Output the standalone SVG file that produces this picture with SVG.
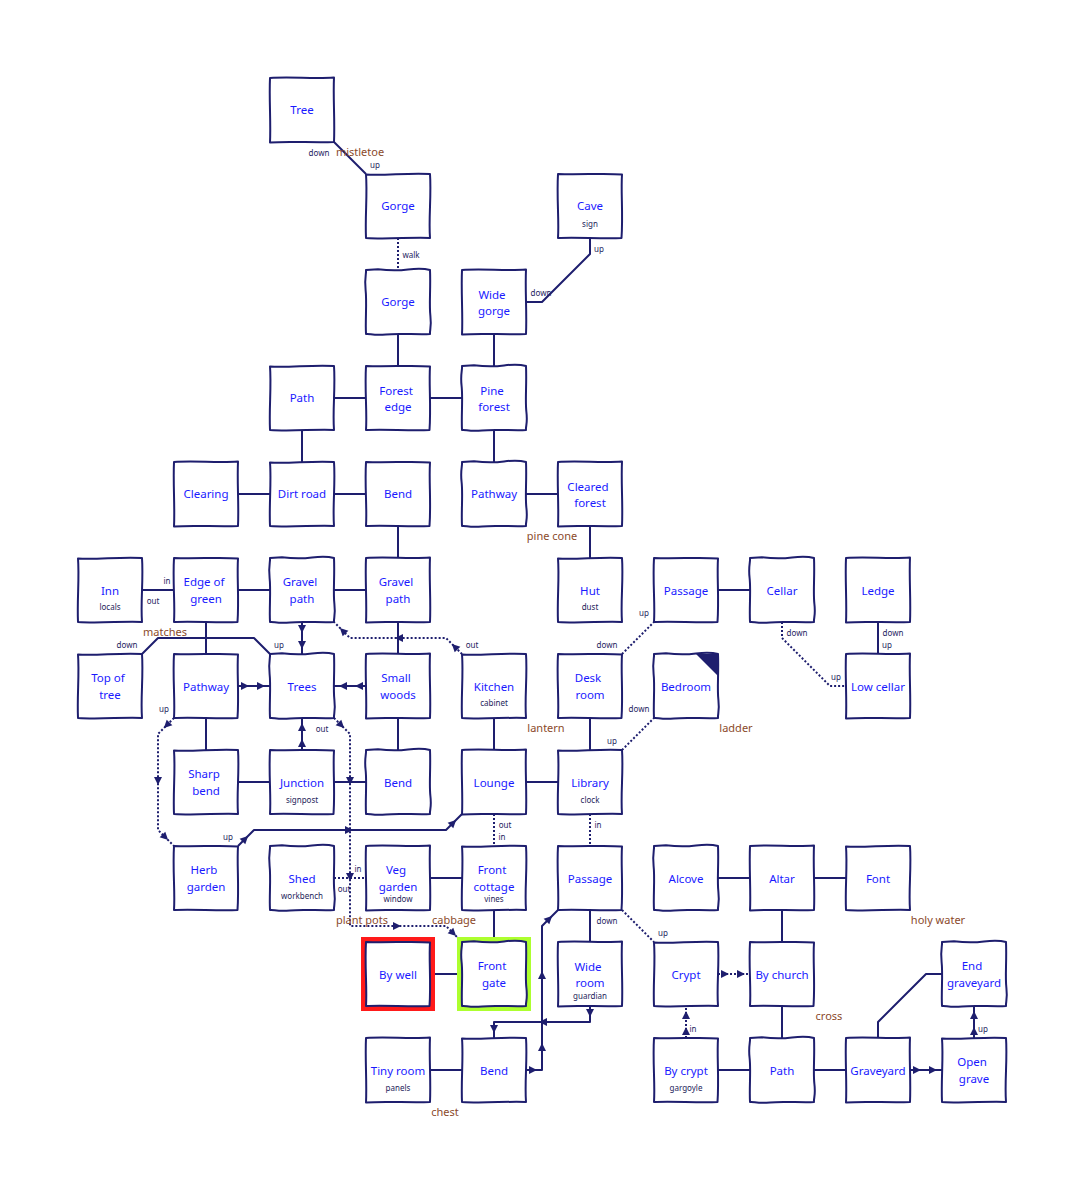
<svg xmlns="http://www.w3.org/2000/svg" xmlns:xlink="http://www.w3.org/1999/xlink" width="1084" height="1180" viewBox="0 0 1084 1180">
<style>
.bx{fill:#fff;stroke:#1e1e6e;stroke-width:2;stroke-linejoin:round}
.t{font-family:"Noto Sans","Open Sans",sans-serif;font-size:11.5px;fill:#1a1aff;text-anchor:middle}
.s{font-family:"Noto Sans","Open Sans",sans-serif;font-size:8px;fill:#24245a;text-anchor:middle}
.l{font-family:"Noto Sans","Open Sans",sans-serif;font-size:8px;fill:#24245e;text-anchor:middle}
.i{font-family:"Noto Sans","Open Sans",sans-serif;font-size:11px;fill:#8b4a2b;text-anchor:middle}
.c{fill:none;stroke:#1e1e6e;stroke-width:2;stroke-linejoin:round}
.d{fill:none;stroke:#1e1e6e;stroke-width:2;stroke-dasharray:2 2}
.a{fill:#1e1e6e}
</style>
<defs>
<path id="b1" d="M-32,-32 C-12,-33.5 12,-31 32,-32.5 C31,-12 33,10 32,32 C12,33 -12,31 -32,32.5 C-31,12 -33,-10 -32,-32Z"/>
<path id="b2" d="M-32,-31.5 C-14,-30 10,-33.5 32,-32 C33.5,-10 30.5,12 32,32 C14,31 -10,33.5 -32,32 C-33,10 -30.5,-12 -32,-31.5Z"/>
<path id="b3" d="M-32,-32 C-10,-31 14,-33 32,-31.5 C30.8,-14 33.2,8 31.5,32 C10,32.8 -14,31 -32,32 C-30.8,14 -33.4,-8 -32,-32Z"/>
<path id="b4" d="M-32,-32 L-20,-32.8 Q-4,-30.8 10,-32.6 T32,-32 C32.8,-12 31,2 32.4,14 S31.5,28 32,32 C20,32.8 0,31 -12,32.4 S-28,31.5 -32,32 C-32.8,18 -31,0 -32.4,-12 S-31.5,-28 -32,-32Z"/>
<polygon id="ar" points="-5,-4 3,0 -5,4"/>
</defs>
<rect width="1084" height="1180" fill="#fff"/>

<g id="connectors">
<path class="c" d="M334,142 L366,174"/>
<path class="d" d="M398,238 L398,270"/>
<path class="c" d="M590,238 L590,254 L542,302 L526,302"/>
<path class="c" d="M398,334 L398,366"/>
<path class="c" d="M494,334 L494,366"/>
<path class="c" d="M334,398 L366,398"/>
<path class="c" d="M430,398 L462,398"/>
<path class="c" d="M302,430 L302,462"/>
<path class="c" d="M494,430 L494,462"/>
<path class="c" d="M238,494 L270,494"/>
<path class="c" d="M334,494 L366,494"/>
<path class="c" d="M526,494 L558,494"/>
<path class="c" d="M398,526 L398,558"/>
<path class="c" d="M590,526 L590,558"/>
<path class="c" d="M142,590 L174,590"/>
<path class="c" d="M238,590 L270,590"/>
<path class="c" d="M334,590 L366,590"/>
<path class="c" d="M302,622 L302,654"/>
<path class="c" d="M206,622 L206,654"/>
<path class="c" d="M142,654 L158,638 L254,638 L270,654"/>
<path class="c" d="M238,686 L270,686"/>
<path class="c" d="M366,686 L334,686"/>
<path class="c" d="M398,622 L398,654"/>
<path class="d" d="M462,654 L446,638 L350,638 L334,622"/>
<path class="d" d="M334,718 L350,734 L350,926 L446,926 L462,942"/>
<path class="d" d="M174,718 L158,734 L158,830 L174,846"/>
<path class="c" d="M238,846 L254,830 L446,830 L462,814"/>
<path class="c" d="M494,718 L494,750"/>
<path class="c" d="M206,718 L206,750"/>
<path class="c" d="M238,782 L270,782"/>
<path class="c" d="M302,750 L302,718"/>
<path class="c" d="M334,782 L366,782"/>
<path class="c" d="M398,718 L398,750"/>
<path class="c" d="M526,782 L558,782"/>
<path class="c" d="M590,718 L590,750"/>
<path class="d" d="M622,654 L654,622"/>
<path class="d" d="M622,750 L654,718"/>
<path class="c" d="M718,590 L750,590"/>
<path class="d" d="M782,622 L782,638 L830,686 L846,686"/>
<path class="c" d="M878,622 L878,654"/>
<path class="d" d="M494,814 L494,846"/>
<path class="d" d="M590,814 L590,846"/>
<path class="d" d="M334,878 L366,878"/>
<path class="c" d="M430,878 L462,878"/>
<path class="c" d="M494,910 L494,942"/>
<path class="c" d="M430,974 L462,974"/>
<path class="c" d="M590,910 L590,942"/>
<path class="d" d="M622,910 L654,942"/>
<path class="c" d="M718,878 L750,878"/>
<path class="c" d="M814,878 L846,878"/>
<path class="c" d="M782,910 L782,942"/>
<path class="d" d="M718,974 L750,974"/>
<path class="d" d="M686,1038 L686,1006"/>
<path class="c" d="M782,1006 L782,1038"/>
<path class="c" d="M718,1070 L750,1070"/>
<path class="c" d="M814,1070 L846,1070"/>
<path class="c" d="M910,1070 L942,1070"/>
<path class="c" d="M974,1038 L974,1006"/>
<path class="c" d="M878,1038 L878,1022 L926,974 L942,974"/>
<path class="c" d="M430,1070 L462,1070"/>
<path class="c" d="M526,1070 L542,1070 L542,926 L558,910"/>
<path class="c" d="M590,1006 L590,1022 L494,1022 L494,1038"/>

<use href="#ar" class="a" transform="translate(302,630) rotate(90)"/>
<use href="#ar" class="a" transform="translate(302,646) rotate(90)"/>
<use href="#ar" class="a" transform="translate(246,686)"/>
<use href="#ar" class="a" transform="translate(262,686)"/>
<use href="#ar" class="a" transform="translate(358,686) rotate(180)"/>
<use href="#ar" class="a" transform="translate(342,686) rotate(180)"/>
<use href="#ar" class="a" transform="translate(302,742) rotate(-90)"/>
<use href="#ar" class="a" transform="translate(302,726) rotate(-90)"/>
<use href="#ar" class="a" transform="translate(454,646) rotate(-135)"/>
<use href="#ar" class="a" transform="translate(398,638) rotate(180)"/>
<use href="#ar" class="a" transform="translate(342,630) rotate(-135)"/>
<use href="#ar" class="a" transform="translate(342,726) rotate(45)"/>
<use href="#ar" class="a" transform="translate(350,782) rotate(90)"/>
<use href="#ar" class="a" transform="translate(350,878) rotate(90)"/>
<use href="#ar" class="a" transform="translate(398,926)"/>
<use href="#ar" class="a" transform="translate(454,934) rotate(45)"/>
<use href="#ar" class="a" transform="translate(166,726) rotate(135)"/>
<use href="#ar" class="a" transform="translate(158,782) rotate(90)"/>
<use href="#ar" class="a" transform="translate(166,838) rotate(45)"/>
<use href="#ar" class="a" transform="translate(246,838) rotate(-45)"/>
<use href="#ar" class="a" transform="translate(350,830)"/>
<use href="#ar" class="a" transform="translate(454,822) rotate(-45)"/>
<use href="#ar" class="a" transform="translate(534,1070)"/>
<use href="#ar" class="a" transform="translate(542,1046) rotate(-90)"/>
<use href="#ar" class="a" transform="translate(542,974) rotate(-90)"/>
<use href="#ar" class="a" transform="translate(550,918) rotate(-45)"/>
<use href="#ar" class="a" transform="translate(590,1014) rotate(90)"/>
<use href="#ar" class="a" transform="translate(542,1022) rotate(180)"/>
<use href="#ar" class="a" transform="translate(494,1030) rotate(90)"/>
<use href="#ar" class="a" transform="translate(726,974)"/>
<use href="#ar" class="a" transform="translate(742,974)"/>
<use href="#ar" class="a" transform="translate(686,1030) rotate(-90)"/>
<use href="#ar" class="a" transform="translate(686,1014) rotate(-90)"/>
<use href="#ar" class="a" transform="translate(918,1070)"/>
<use href="#ar" class="a" transform="translate(934,1070)"/>
<use href="#ar" class="a" transform="translate(974,1030) rotate(-90)"/>
<use href="#ar" class="a" transform="translate(974,1014) rotate(-90)"/>

<text class="l" x="319" y="156">down</text>
<text class="l" x="375" y="168">up</text>
<text class="l" x="411" y="258">walk</text>
<text class="l" x="599" y="252">up</text>
<text class="l" x="541" y="296">down</text>
<text class="l" x="167" y="584">in</text>
<text class="l" x="153" y="604">out</text>
<text class="l" x="127" y="648">down</text>
<text class="l" x="279" y="648">up</text>
<text class="l" x="472" y="648">out</text>
<text class="l" x="607" y="648">down</text>
<text class="l" x="644" y="616">up</text>
<text class="l" x="797" y="636">down</text>
<text class="l" x="836" y="680">up</text>
<text class="l" x="893" y="636">down</text>
<text class="l" x="887" y="648">up</text>
<text class="l" x="164" y="712">up</text>
<text class="l" x="322" y="732">out</text>
<text class="l" x="612" y="744">up</text>
<text class="l" x="639" y="712">down</text>
<text class="l" x="505" y="828">out</text>
<text class="l" x="502" y="840">in</text>
<text class="l" x="598" y="828">in</text>
<text class="l" x="228" y="840">up</text>
<text class="l" x="358" y="872">in</text>
<text class="l" x="344" y="892">out</text>
<text class="l" x="607" y="924">down</text>
<text class="l" x="663" y="936">up</text>
<text class="l" x="693" y="1032">in</text>
<text class="l" x="983" y="1032">up</text>

<text class="i" x="360" y="156">mistletoe</text>
<text class="i" x="552" y="540">pine cone</text>
<text class="i" x="165" y="636">matches</text>
<text class="i" x="546" y="732">lantern</text>
<text class="i" x="736" y="732">ladder</text>
<text class="i" x="362" y="924">plant pots</text>
<text class="i" x="454" y="924">cabbage</text>
<text class="i" x="938" y="924">holy water</text>
<text class="i" x="829" y="1020">cross</text>
<text class="i" x="445" y="1116">chest</text>
</g>

<g id="n-tree"><use href="#b1" class="bx" x="302" y="110"/><text class="t" x="302" y="114">Tree</text></g>
<g id="n-gorge1"><use href="#b2" class="bx" x="398" y="206"/><text class="t" x="398" y="210">Gorge</text></g>
<g id="n-cave"><use href="#b3" class="bx" x="590" y="206"/><text class="t" x="590" y="210">Cave</text><text class="s" x="590" y="227">sign</text></g>
<g id="n-gorge2"><use href="#b4" class="bx" x="398" y="302"/><text class="t" x="398" y="306">Gorge</text></g>
<g id="n-widegorge"><use href="#b1" class="bx" x="494" y="302"/><text class="t" x="492" y="299">Wide</text><text class="t" x="494" y="315">gorge</text></g>
<g id="n-path1"><use href="#b2" class="bx" x="302" y="398"/><text class="t" x="302" y="402">Path</text></g>
<g id="n-forestedge"><use href="#b3" class="bx" x="398" y="398"/><text class="t" x="396" y="395">Forest</text><text class="t" x="398" y="411">edge</text></g>
<g id="n-pineforest"><use href="#b4" class="bx" x="494" y="398"/><text class="t" x="492" y="395">Pine</text><text class="t" x="494" y="411">forest</text></g>
<g id="n-clearing"><use href="#b1" class="bx" x="206" y="494"/><text class="t" x="206" y="498">Clearing</text></g>
<g id="n-dirtroad"><use href="#b2" class="bx" x="302" y="494"/><text class="t" x="302" y="498">Dirt road</text></g>
<g id="n-bend1"><use href="#b3" class="bx" x="398" y="494"/><text class="t" x="398" y="498">Bend</text></g>
<g id="n-pathway1"><use href="#b4" class="bx" x="494" y="494"/><text class="t" x="494" y="498">Pathway</text></g>
<g id="n-clearedforest"><use href="#b1" class="bx" x="590" y="494"/><text class="t" x="588" y="491">Cleared</text><text class="t" x="590" y="507">forest</text></g>
<g id="n-inn"><use href="#b2" class="bx" x="110" y="590"/><text class="t" x="110" y="595">Inn</text><text class="s" x="110" y="610">locals</text></g>
<g id="n-edgeofgreen"><use href="#b3" class="bx" x="206" y="590"/><text class="t" x="204" y="586">Edge of</text><text class="t" x="206" y="603">green</text></g>
<g id="n-gravel1"><use href="#b4" class="bx" x="302" y="590"/><text class="t" x="300" y="586">Gravel</text><text class="t" x="302" y="603">path</text></g>
<g id="n-gravel2"><use href="#b1" class="bx" x="398" y="590"/><text class="t" x="396" y="586">Gravel</text><text class="t" x="398" y="603">path</text></g>
<g id="n-hut"><use href="#b2" class="bx" x="590" y="590"/><text class="t" x="590" y="595">Hut</text><text class="s" x="590" y="610">dust</text></g>
<g id="n-passage1"><use href="#b3" class="bx" x="686" y="590"/><text class="t" x="686" y="595">Passage</text></g>
<g id="n-cellar"><use href="#b4" class="bx" x="782" y="590"/><text class="t" x="782" y="595">Cellar</text></g>
<g id="n-ledge"><use href="#b1" class="bx" x="878" y="590"/><text class="t" x="878" y="595">Ledge</text></g>
<g id="n-topoftree"><use href="#b2" class="bx" x="110" y="686"/><text class="t" x="108" y="682">Top of</text><text class="t" x="110" y="699">tree</text></g>
<g id="n-pathway2"><use href="#b3" class="bx" x="206" y="686"/><text class="t" x="206" y="691">Pathway</text></g>
<g id="n-trees"><use href="#b4" class="bx" x="302" y="686"/><text class="t" x="302" y="691">Trees</text></g>
<g id="n-smallwoods"><use href="#b1" class="bx" x="398" y="686"/><text class="t" x="396" y="682">Small</text><text class="t" x="398" y="699">woods</text></g>
<g id="n-kitchen"><use href="#b2" class="bx" x="494" y="686"/><text class="t" x="494" y="691">Kitchen</text><text class="s" x="494" y="706">cabinet</text></g>
<g id="n-deskroom"><use href="#b3" class="bx" x="590" y="686"/><text class="t" x="588" y="682">Desk</text><text class="t" x="590" y="699">room</text></g>
<g id="n-bedroom"><use href="#b4" class="bx" x="686" y="686"/><polygon class="a" points="696,654 719,654 719,677"/><text class="t" x="686" y="691">Bedroom</text></g>
<g id="n-lowcellar"><use href="#b1" class="bx" x="878" y="686"/><text class="t" x="878" y="691">Low cellar</text></g>
<g id="n-sharpbend"><use href="#b2" class="bx" x="206" y="782"/><text class="t" x="204" y="778">Sharp</text><text class="t" x="206" y="795">bend</text></g>
<g id="n-junction"><use href="#b3" class="bx" x="302" y="782"/><text class="t" x="302" y="787">Junction</text><text class="s" x="302" y="803">signpost</text></g>
<g id="n-bend2"><use href="#b4" class="bx" x="398" y="782"/><text class="t" x="398" y="787">Bend</text></g>
<g id="n-lounge"><use href="#b1" class="bx" x="494" y="782"/><text class="t" x="494" y="787">Lounge</text></g>
<g id="n-library"><use href="#b2" class="bx" x="590" y="782"/><text class="t" x="590" y="787">Library</text><text class="s" x="590" y="803">clock</text></g>
<g id="n-herbgarden"><use href="#b3" class="bx" x="206" y="878"/><text class="t" x="204" y="874">Herb</text><text class="t" x="206" y="891">garden</text></g>
<g id="n-shed"><use href="#b4" class="bx" x="302" y="878"/><text class="t" x="302" y="883">Shed</text><text class="s" x="302" y="899">workbench</text></g>
<g id="n-veggarden"><use href="#b1" class="bx" x="398" y="878"/><text class="t" x="396" y="874">Veg</text><text class="t" x="398" y="891">garden</text><text class="s" x="398" y="902">window</text></g>
<g id="n-frontcottage"><use href="#b2" class="bx" x="494" y="878"/><text class="t" x="492" y="874">Front</text><text class="t" x="494" y="891">cottage</text><text class="s" x="494" y="902">vines</text></g>
<g id="n-passage2"><use href="#b3" class="bx" x="590" y="878"/><text class="t" x="590" y="883">Passage</text></g>
<g id="n-alcove"><use href="#b4" class="bx" x="686" y="878"/><text class="t" x="686" y="883">Alcove</text></g>
<g id="n-altar"><use href="#b1" class="bx" x="782" y="878"/><text class="t" x="782" y="883">Altar</text></g>
<g id="n-font"><use href="#b2" class="bx" x="878" y="878"/><text class="t" x="878" y="883">Font</text></g>
<g id="n-bywell"><rect x="363.5" y="939.5" width="69" height="69" fill="none" stroke="#ff1a1a" stroke-width="5"/><use href="#b3" class="bx" x="398" y="974"/><text class="t" x="398" y="979">By well</text></g>
<g id="n-frontgate"><rect x="459.5" y="939.5" width="69" height="69" fill="none" stroke="#adff2f" stroke-width="5"/><use href="#b4" class="bx" x="494" y="974"/><text class="t" x="492" y="970">Front</text><text class="t" x="494" y="987">gate</text></g>
<g id="n-wideroom"><use href="#b1" class="bx" x="590" y="974"/><text class="t" x="588" y="971">Wide</text><text class="t" x="590" y="987">room</text><text class="s" x="590" y="999">guardian</text></g>
<g id="n-crypt"><use href="#b2" class="bx" x="686" y="974"/><text class="t" x="686" y="979">Crypt</text></g>
<g id="n-bychurch"><use href="#b3" class="bx" x="782" y="974"/><text class="t" x="782" y="979">By church</text></g>
<g id="n-endgraveyard"><use href="#b4" class="bx" x="974" y="974"/><text class="t" x="972" y="970">End</text><text class="t" x="974" y="987">graveyard</text></g>
<g id="n-tinyroom"><use href="#b1" class="bx" x="398" y="1070"/><text class="t" x="398" y="1075">Tiny room</text><text class="s" x="398" y="1091">panels</text></g>
<g id="n-bend3"><use href="#b2" class="bx" x="494" y="1070"/><text class="t" x="494" y="1075">Bend</text></g>
<g id="n-bycrypt"><use href="#b3" class="bx" x="686" y="1070"/><text class="t" x="686" y="1075">By crypt</text><text class="s" x="686" y="1091">gargoyle</text></g>
<g id="n-path2"><use href="#b4" class="bx" x="782" y="1070"/><text class="t" x="782" y="1075">Path</text></g>
<g id="n-graveyard"><use href="#b1" class="bx" x="878" y="1070"/><text class="t" x="878" y="1075">Graveyard</text></g>
<g id="n-opengrave"><use href="#b2" class="bx" x="974" y="1070"/><text class="t" x="972" y="1066">Open</text><text class="t" x="974" y="1083">grave</text></g>
</svg>
